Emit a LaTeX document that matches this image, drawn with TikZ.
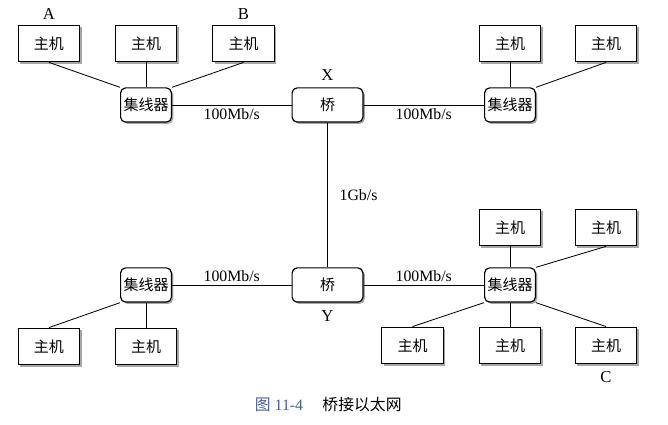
\documentclass[tikz,border=0pt]{standalone}
\usepackage{fontspec}
\setmainfont{Liberation Serif}
\newfontfamily\cjk{Noto Sans CJK SC}
\usetikzlibrary{shadows}
\definecolor{capblue}{RGB}{70,95,150}
\tikzset{%
  box shadow/.style={drop shadow={shadow xshift=1.1pt,shadow yshift=-1.1pt,
  fill=black,opacity=0.35}},%
  host/.style={draw,line width=0.7pt,fill=white,box shadow,inner sep=0pt,
  minimum width=37pt,minimum height=22pt,font=\cjk\fontsize{9}{10}\selectfont},%
  hub/.style={draw,line width=0.7pt,fill=white,box shadow,rounded corners=3pt,
  inner sep=0pt,minimum width=30.5pt,minimum height=20.5pt,
  font=\cjk\fontsize{9}{10}\selectfont},%
  bridge/.style={hub,minimum width=42.5pt},%
  link/.style={line width=0.5pt},%
  rate/.style={font=\fontsize{9.5}{11}\selectfont,inner sep=2pt},%
  tag/.style={font=\fontsize{10}{11}\selectfont,inner sep=1pt}
}
\begin{document}
\begin{tikzpicture}[x=0.6pt,y=0.6pt] % bridged ethernet

    \useasboundingbox (0,0) rectangle (668,425);

    % bridges
    \node[bridge] (X) at (327.5,320) {桥};
    \node[bridge] (Y) at (327.5,140) {桥};
    \node[tag,above=3pt] at (X.north) {X};
    \node[tag,below=3.5pt] at (Y.south) {Y};

    % hubs
    \node[hub] (hubTL) at (146,320) {集线器};
    \node[hub] (hubTR) at (510,320) {集线器};
    \node[hub] (hubBL) at (146,140) {集线器};
    \node[hub] (hubBR) at (510,140) {集线器};

    % hosts, top left
    \node[host] (hA) at (49,381.5) {主机};
    \node[host] (hTL2) at (146,381.5) {主机};
    \node[host] (hB) at (243.5,381.5) {主机};
    \node[tag,above=2pt] at (hA.north) {A};
    \node[tag,above=2pt] at (hB.north) {B};

    % hosts, top right
    \node[host] (hTR1) at (510,381.5) {主机};
    \node[host] (hTR2) at (606,381.5) {主机};

    % hosts, bottom left
    \node[host] (hBL1) at (49,78.5) {主机};
    \node[host] (hBL2) at (146,78.5) {主机};

    % hosts, bottom right
    \node[host] (hBR1) at (510,197.5) {主机};
    \node[host] (hBR2) at (606,197.5) {主机};
    \node[host] (hBR3) at (412.5,79.5) {主机};
    \node[host] (hBR4) at (510,79.5) {主机};
    \node[host] (hC) at (606,79.5) {主机};
    \node[tag,below=3pt] at (hC.south) {C};

    % hub to bridge links
    \draw[link] (hubTL.east) -- node[rate,below] {100Mb/s} (X.west);
    \draw[link] (X.east) -- node[rate,below] {100Mb/s} (hubTR.west);
    \draw[link] (hubBL.east) -- node[rate,above] {100Mb/s} (Y.west);
    \draw[link] (Y.east) -- node[rate,above] {100Mb/s} (hubBR.west);
    \draw[link] (X.south) -- node[rate,right=5pt] {1Gb/s} (Y.north);

    % host to hub links
    \draw[link] (hA.south) -- (hubTL.north west);
    \draw[link] (hTL2.south) -- (hubTL.north);
    \draw[link] (hB.south) -- (hubTL.north east);
    \draw[link] (hTR1.south) -- (hubTR.north);
    \draw[link] (hTR2.south) -- (hubTR.north east);
    \draw[link] (hBL1.north) -- (hubBL.south west);
    \draw[link] (hBL2.north) -- (hubBL.south);
    \draw[link] (hBR1.south) -- (hubBR.north);
    \draw[link] (hBR2.south) -- (hubBR.north east);
    \draw[link] (hBR3.north) -- (hubBR.south west);
    \draw[link] (hBR4.north) -- (hubBR.south);
    \draw[link] (hC.north) -- (hubBR.south east);

    % caption
    \node[font=\fontsize{9.5}{11}\selectfont,text=capblue] (capnum) at (279,20) {{\cjk 图} 11-4};
    \node[font=\cjk\fontsize{9.5}{11}\selectfont] (captext) at (362,20) {桥接以太网};

\end{tikzpicture}
\end{document}
